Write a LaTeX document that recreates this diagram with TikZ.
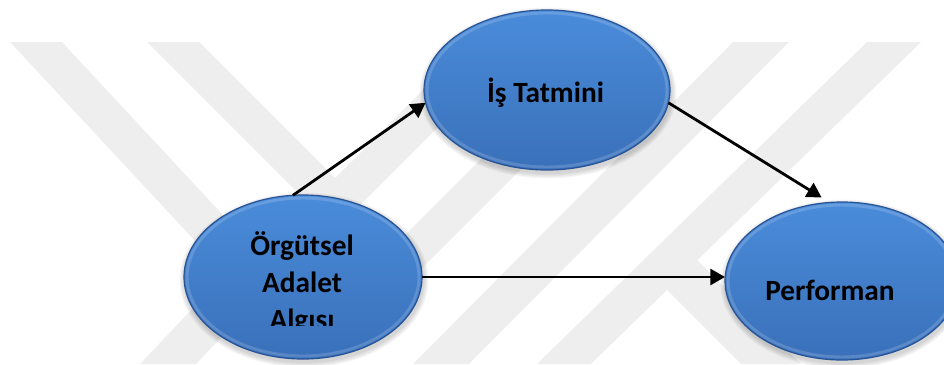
\documentclass[tikz,border=0pt]{standalone}
\usepackage{fontspec}
\setmainfont{Carlito}
\usetikzlibrary{shapes.geometric,arrows.meta}

\definecolor{wmgray}{RGB}{238,238,238}
\definecolor{bubbletop}{RGB}{74,140,218}
\definecolor{bubblebot}{RGB}{58,112,186}
\definecolor{bubbleedge}{RGB}{40,84,150}

\tikzset{
  band/.style={fill=wmgray, draw=none},
  bubble/.style={ellipse, inner sep=0pt, outer sep=0pt,
    top color=bubbletop, bottom color=bubblebot,
    draw=bubbleedge, line width=0.9pt},
  rim/.style={draw=white, opacity=0.16, line width=2.2pt},
  bubbletext/.style={font=\fontsize{22}{27.75}\selectfont\bfseries,
    text=black, inner sep=0pt, anchor=base},
  link/.style={-{Triangle[length=11pt,width=12pt]}, line width=2.1pt, black},
}

\begin{document}
\begin{tikzpicture}[x=0.75pt,y=-0.75pt]
\useasboundingbox (0,0) rectangle (944,364);

% light striped emblem in the background
\fill[band] (10,42) -- (62,42) -- (262,257) -- (210,257) -- cycle;
\fill[band] (140,364) -- (196,364) -- (270,286) -- (214,286) -- cycle;
\fill[band] (147,42) -- (199,42) -- (335,178) -- (471,42) -- (523,42) -- (335,230) -- cycle;
\fill[band] (340,300) -- (390,300) -- (570,120) -- (520,120) -- cycle;
\fill[band] (733,42) -- (789,42) -- (469,364) -- (413,364) -- cycle;
\fill[band] (867,42) -- (921,42) -- (591,364) -- (537,364) -- cycle;
\fill[band] (697,260) -- (801,364) -- (741,364) -- (667,290) -- cycle;

% soft shadows under the bubbles
\foreach \cx/\cy/\rx/\ry in {303/277/119/82, 547/90/123/80, 842/281/117/79}{
  \foreach \g in {1,...,5}{
    \fill[black, opacity=0.035] (\cx+1,\cy+3) ellipse [x radius=\rx+\g*1.1, y radius=\ry+\g*1.1];
  }
}

% bubbles
\node[bubble, minimum width=178.5pt, minimum height=123pt] (oa) at (303,277) {};
\node[bubble, minimum width=184.5pt, minimum height=120pt] (is) at (547,90) {};
\node[bubble, minimum width=175.5pt, minimum height=118.5pt] (pf) at (842,281) {};

% bevel highlight just inside each rim
\draw[rim] (oa.center) ellipse [x radius=116, y radius=79];
\draw[rim] (is.center) ellipse [x radius=120, y radius=77];
\draw[rim] (pf.center) ellipse [x radius=114, y radius=76];

% bubble captions
\node[bubbletext] (istext) at (545.5,102) {İş Tatmini};
\node[bubbletext] (pftext) at (830,300) {Performan};
\begin{scope}
  \clip (184,190) rectangle (422,325);
  \node[bubbletext] (oa1) at (302,255) {Örgütsel};
  \node[bubbletext] (oa2) at (302,292) {Adalet};
  \node[bubbletext] (oa3) at (302,329) {Algısı};
\end{scope}

% connectors
\draw[link] (oa.97.5) -- (is.186);
\draw[link, shorten >=7pt] (is.-6) -- (pf.99);
\draw[link] (oa.east) -- (oa.east -| pf.west);
\end{tikzpicture}
\end{document}
